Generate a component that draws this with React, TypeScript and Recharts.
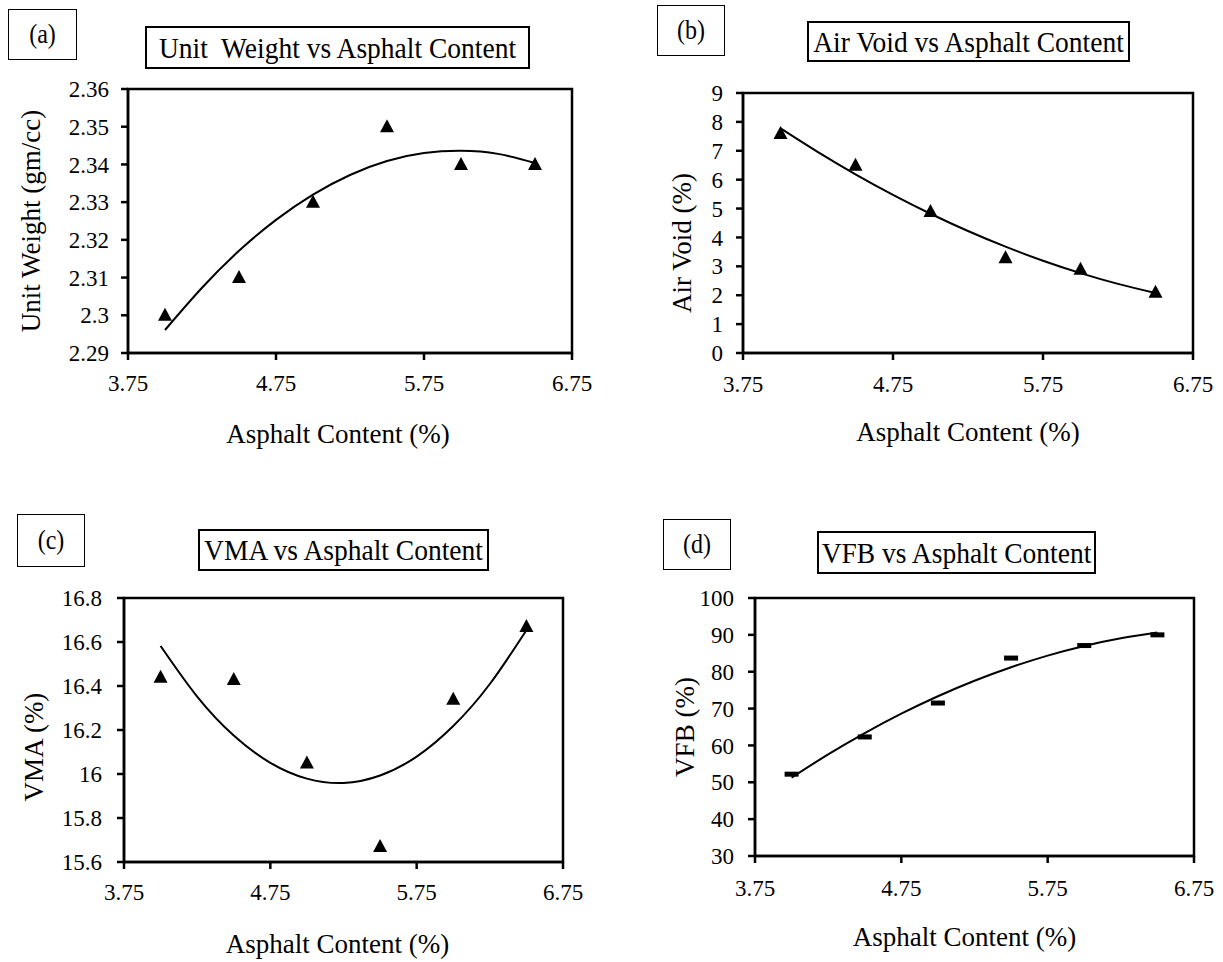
import {
  ComposedChart,
  Line,
  Scatter,
  XAxis,
  YAxis,
  ReferenceArea,
} from 'recharts';

// asphalt content of the six mixes (%)
const asphaltContent = [4.0, 4.5, 5.0, 5.5, 6.0, 6.5];
const unitWeight = [2.3, 2.31, 2.33, 2.35, 2.34, 2.34];
const airVoid = [7.6, 6.5, 4.9, 3.3, 2.9, 2.1];
const vma = [16.44, 16.43, 16.05, 15.67, 16.34, 16.67];
const vfb = [52.2, 62.3, 71.5, 83.7, 87.1, 90.0];

// points
const trendX = [4.0, 4.25, 4.5, 4.75, 5.0, 5.25, 5.5, 5.75, 6.0, 6.25, 6.5];
const unitWeightTrend = [2.2961, 2.3073, 2.3171, 2.3253, 2.332, 2.3372, 2.3409, 2.343, 2.3436, 2.3428, 2.3404];
const airVoidTrend = [7.775, 6.952, 6.185, 5.474, 4.82, 4.222, 3.68, 3.194, 2.765, 2.392, 2.075];
const vmaTrend = [16.582, 16.352, 16.175, 16.051, 15.979, 15.959, 15.993, 16.079, 16.218, 16.409, 16.654];
const vfbTrend = [51.26, 57.57, 63.36, 68.62, 73.35, 77.55, 81.22, 84.37, 86.98, 89.07, 90.63];

const xTicks = [3.75, 4.75, 5.75, 6.75];
const unitWeightTicks = [2.29, 2.3, 2.31, 2.32, 2.33, 2.34, 2.35, 2.36];
const airVoidTicks = [0, 1, 2, 3, 4, 5, 6, 7, 8, 9];
const vmaTicks = [15.6, 15.8, 16, 16.2, 16.4, 16.6, 16.8];
const vfbTicks = [30, 40, 50, 60, 70, 80, 90, 100];

const FONT = '"Liberation Serif", "Times New Roman", serif';

const rows = (xs: number[], ys: number[]) => xs.map((x, i) => ({ x, y: ys[i] }));

const Triangle = (props: any) => {
  const { cx, cy } = props;
  if (cx == null || cy == null) return null;
  return <polygon points={`${cx},${cy - 7.5} ${cx + 7},${cy + 5.5} ${cx - 7},${cy + 5.5}`} fill="#000" />;
};

const Dash = (props: any) => {
  const { cx, cy } = props;
  if (cx == null || cy == null) return null;
  return <rect x={cx - 7} y={cy - 2.5} width={14} height={5} fill="#000" />;
};

const panels = [
  {
    tag: '(a)', title: 'Unit  Weight vs Asphalt Content', yLabel: 'Unit Weight (gm/cc)',
    points: unitWeight, trend: unitWeightTrend, yTicks: unitWeightTicks, marker: Triangle,
    tagBox: [8, 9, 69, 51], titleBox: [145, 26, 385, 43],
    left: 0, top: 72, width: 610, height: 381, yAxisW: 128, mTop: 17, mRight: 38,
    yTickMargin: 12, xTickMargin: 15, xLabelOff: 10, xLabelDx: -12, yLabelOff: 30, yLabelDy: 0,
  },
  {
    tag: '(b)', title: 'Air Void vs Asphalt Content', yLabel: 'Air Void (%)',
    points: airVoid, trend: airVoidTrend, yTicks: airVoidTicks, marker: Triangle,
    tagBox: [657, 5, 68, 51], titleBox: [807, 21, 323, 41],
    left: 610, top: 70, width: 613, height: 383, yAxisW: 133, mTop: 23, mRight: 30,
    yTickMargin: 13, xTickMargin: 16, xLabelOff: 12, xLabelDx: 0, yLabelOff: 71, yLabelDy: 20,
  },
  {
    tag: '(c)', title: 'VMA vs Asphalt Content', yLabel: 'VMA (%)',
    points: vma, trend: vmaTrend, yTicks: vmaTicks, marker: Triangle,
    tagBox: [17, 514, 68, 53], titleBox: [198, 529, 291, 42],
    left: 0, top: 575, width: 610, height: 387, yAxisW: 124, mTop: 23, mRight: 47,
    yTickMargin: 15, xTickMargin: 15, xLabelOff: 9, xLabelDx: -6, yLabelOff: 33, yLabelDy: 17,
  },
  {
    tag: '(d)', title: 'VFB vs Asphalt Content', yLabel: 'VFB (%)',
    points: vfb, trend: vfbTrend, yTicks: vfbTicks, marker: Dash,
    tagBox: [663, 519, 68, 51], titleBox: [817, 531, 279, 43],
    left: 610, top: 576, width: 613, height: 380, yAxisW: 145, mTop: 22, mRight: 29,
    yTickMargin: 14, xTickMargin: 17, xLabelOff: 10, xLabelDx: -10, yLabelOff: 74, yLabelDy: 0,
  },
];

function Panel({ p }: { p: (typeof panels)[number] }) {
  const yMin = p.yTicks[0];
  const yMax = p.yTicks[p.yTicks.length - 1];
  const tick = { fill: '#000', fontSize: 23, fontFamily: FONT };
  const line = { stroke: '#000', strokeWidth: 2.5 };
  return (
    <>
      <div
        style={{
          position: 'absolute', left: p.tagBox[0], top: p.tagBox[1], width: p.tagBox[2], height: p.tagBox[3],
          border: '1.5px solid #000', boxSizing: 'border-box', display: 'flex', alignItems: 'center',
          justifyContent: 'center', fontFamily: FONT, fontSize: 24,
        }}
      >
        <span style={{ display: 'inline-block', transform: 'scaleY(1.1)' }}>{p.tag}</span>
      </div>
      <div
        style={{
          position: 'absolute', left: p.titleBox[0], top: p.titleBox[1], width: p.titleBox[2], height: p.titleBox[3],
          border: '2.5px solid #000', boxSizing: 'border-box', display: 'flex', alignItems: 'center',
          justifyContent: 'center', fontFamily: FONT, fontSize: 27.5, whiteSpace: 'pre',
        }}
      >
        <span style={{ display: 'inline-block', transform: 'scaleY(1.1)' }}>{p.title}</span>
      </div>
      <div style={{ position: 'absolute', left: p.left, top: p.top }}>
        <ComposedChart
          width={p.width}
          height={p.height}
          margin={{ top: p.mTop, right: p.mRight, left: 0, bottom: 0 }}
        >
          <XAxis
            type="number"
            dataKey="x"
            domain={[3.75, 6.75]}
            ticks={xTicks}
            interval={0}
            allowDataOverflow
            height={100}
            tick={tick}
            tickSize={7}
            tickMargin={p.xTickMargin}
            axisLine={line}
            tickLine={line}
            label={{
              value: 'Asphalt Content (%)', position: 'insideBottom', offset: p.xLabelOff, dx: p.xLabelDx,
              fill: '#000', fontSize: 27, fontFamily: FONT,
            }}
          />
          <YAxis
            type="number"
            dataKey="y"
            domain={[yMin, yMax]}
            ticks={p.yTicks}
            interval={0}
            allowDataOverflow
            width={p.yAxisW}
            tick={tick}
            tickSize={7}
            tickMargin={p.yTickMargin}
            axisLine={line}
            tickLine={line}
            label={{
              value: p.yLabel, angle: -90, position: 'insideLeft', offset: p.yLabelOff, dy: p.yLabelDy,
              fill: '#000', fontSize: 27, fontFamily: FONT, style: { textAnchor: 'middle' },
            }}
          />
          <ReferenceArea x1={3.75} x2={6.75} y1={yMin} y2={yMax} fill="none" stroke="#000" strokeWidth={2.5} fillOpacity={0} />
          <Line
            data={rows(trendX, p.trend)}
            dataKey="y"
            type="natural"
            stroke="#000"
            strokeWidth={2}
            dot={false}
            activeDot={false}
            isAnimationActive={false}
          />
          <Scatter
            data={rows(asphaltContent, p.points)}
            dataKey="y"
            shape={p.marker}
            isAnimationActive={false}
          />
        </ComposedChart>
      </div>
    </>
  );
}

export default function App() {
  return (
    <div style={{ position: 'absolute', left: 0, top: 0, width: 1223, height: 962, background: '#fff' }}>
      {panels.map((p) => (
        <Panel key={p.tag} p={p} />
      ))}
    </div>
  );
}
